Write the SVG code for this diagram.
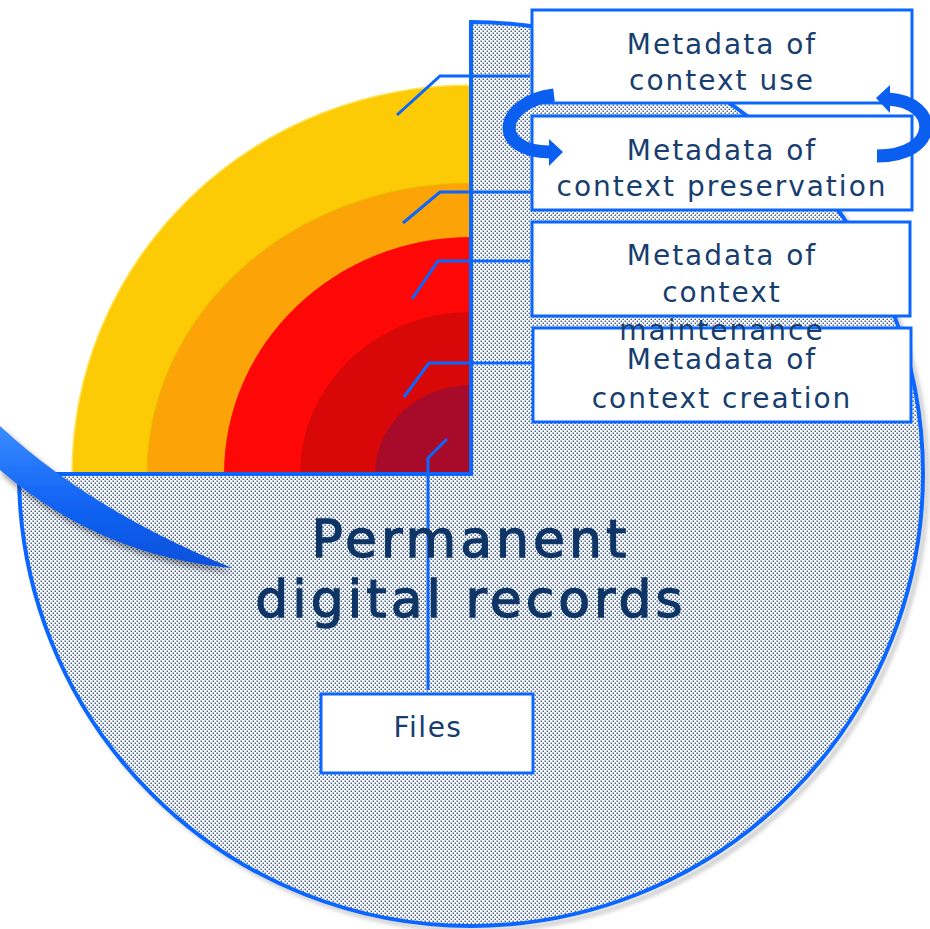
<svg xmlns="http://www.w3.org/2000/svg" width="930" height="929" viewBox="0 0 930 929">
<style>
.box{fill:#fff;stroke:#0a66ff;stroke-width:3}
.t{font-family:"DejaVu Sans","Liberation Sans",sans-serif;font-size:28px;fill:#173e6e;text-anchor:middle;letter-spacing:2px}
.big{font-family:"DejaVu Sans","Liberation Sans",sans-serif;font-size:52px;fill:#0e3566;text-anchor:middle;letter-spacing:4px;stroke:#0e3566;stroke-width:1.3}
.con{fill:none;stroke:#0a66ff;stroke-width:3}
.arr{fill:none;stroke:#0a5ef0;stroke-width:13}
.ah{fill:#0a5ef0}
</style>
<defs>
<pattern id="dots" width="4" height="4" patternUnits="userSpaceOnUse">
<rect width="4" height="4" fill="#fff"/>
<rect x="0.5" y="0.5" width="1.5" height="1.5" fill="#4a6690"/>
<rect x="2.5" y="2.5" width="1.5" height="1.5" fill="#4a6690"/>
</pattern>
<filter id="blur" x="-10%" y="-10%" width="120%" height="120%"><feGaussianBlur stdDeviation="2"/></filter>
<filter id="sh" x="-20%" y="-20%" width="140%" height="160%"><feDropShadow dx="3" dy="5" stdDeviation="3" flood-color="#000" flood-opacity="0.45"/></filter>
<linearGradient id="sw" x1="0" y1="0" x2="0" y2="1">
<stop offset="0" stop-color="#3c8cff"/><stop offset="0.5" stop-color="#1366f5"/><stop offset="1" stop-color="#0a50dc"/>
</linearGradient>
</defs>

<g id="record">
<path d="M 475 478 L 23 478 A 452 452 0 1 0 475 26 Z" fill="none" stroke="#888" stroke-width="4" opacity="0.5" filter="url(#blur)"/>
<path d="M 471 474 L 19 474 A 452 452 0 1 0 471 22 Z" fill="url(#dots)" stroke="#0a66ff" stroke-width="4"/>
</g>

<g id="rings">
<path d="M 471 474 L 72 474 A 399 389 0 0 1 471 85 Z" fill="#fccb05" stroke="#ffe45a" stroke-width="1.5"/>
<path d="M 471 474 L 147 474 A 324 291 0 0 1 471 183 Z" fill="#fba307" stroke="#e8c000" stroke-width="1"/>
<path d="M 471 474 L 224 474 A 247 237 0 0 1 471 237 Z" fill="#fe0707"/>
<path d="M 471 474 L 300 474 A 171 162 0 0 1 471 312 Z" fill="#d80808"/>
<path d="M 471 474 L 375 474 A 96 89 0 0 1 471 385 Z" fill="#a80a2a"/>
<path d="M 19 474 L 471 474 L 471 22" fill="none" stroke="#0a66ff" stroke-width="4"/>
</g>

<g id="swoosh" filter="url(#sh)">
<path d="M 0 426 Q 90 510 232 568 Q 100 556 0 470 Z" fill="url(#sw)"/>
</g>

<g id="connectors">
<polyline class="con" points="397,115 440,76 530,76"/>
<polyline class="con" points="403,223 440,192 535,192"/>
<polyline class="con" points="412,299 438,261 530,261"/>
<polyline class="con" points="404,397 429,363 534,363"/>
<polyline class="con" points="447,439 428,458 428,690"/>
</g>

<text class="big" x="471" y="557">Permanent</text>
<text class="big" x="471" y="617">digital records</text>

<g id="box-use">
<rect class="box" x="532" y="10" width="380" height="93"/>
<text class="t" x="722" y="54">Metadata of</text>
<text class="t" x="722" y="90">context use</text>
</g>
<g id="box-preservation">
<rect class="box" x="532" y="116" width="380" height="94"/>
<text class="t" x="722" y="160">Metadata of</text>
<text class="t" x="722" y="196">context preservation</text>
</g>
<g id="box-creation">
<rect class="box" x="533" y="328" width="378" height="94"/>
<text class="t" x="722" y="369">Metadata of</text>
<text class="t" x="722" y="408">context creation</text>
</g>
<g id="box-maintenance">
<rect class="box" x="532" y="222" width="378" height="94"/>
<text class="t" x="722" y="265">Metadata of</text>
<text class="t" x="722" y="302">context</text>
<text class="t" x="722" y="340">maintenance</text>
</g>
<g id="box-files">
<rect class="box" x="321" y="694" width="212" height="79"/>
<text class="t" x="428" y="737" style="letter-spacing:1.5px">Files</text>
</g>

<g id="cycle-arrows">
<path class="arr" d="M 554 95 C 498 102 492 152 550 152"/>
<polygon class="ah" points="549,139 563,152 549,166"/>
<path class="arr" d="M 888 99 C 940 102 940 156 877 156"/>
<polygon class="ah" points="890,85 876,98 890,113"/>
</g>
</svg>
